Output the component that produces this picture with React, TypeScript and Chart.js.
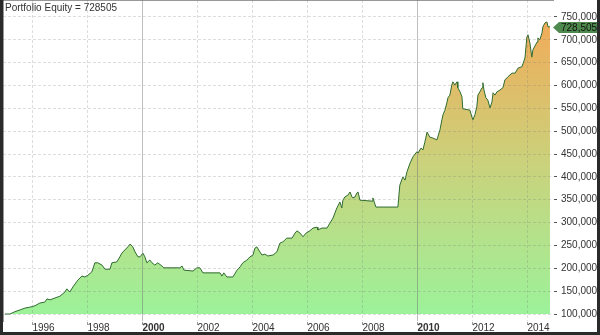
import React, { useEffect, useRef } from 'react';
import { Chart, registerables } from 'chart.js';

Chart.register(...registerables);

const TITLE = 'Portfolio Equity = 728505';

const years = [
  1995.00, 1995.18, 1995.36, 1995.55, 1995.73, 1995.91, 1996.09, 1996.27, 1996.45, 1996.53,
  1996.64, 1996.82, 1997.00, 1997.18, 1997.25, 1997.36, 1997.47, 1997.65, 1997.80, 1997.91,
  1998.02, 1998.16, 1998.27, 1998.38, 1998.53, 1998.64, 1998.82, 1998.89, 1999.07, 1999.18,
  1999.25, 1999.36, 1999.47, 1999.55, 1999.65, 1999.73, 1999.84, 1999.91, 2000.02, 2000.09,
  2000.16, 2000.27, 2000.35, 2000.45, 2000.56, 2000.71, 2000.78, 2001.36, 2001.44, 2001.51,
  2001.84, 2001.98, 2002.09, 2002.20, 2002.82, 2002.89, 2002.96, 2003.07, 2003.29, 2003.44,
  2003.55, 2003.65, 2003.80, 2003.91, 2004.02, 2004.09, 2004.16, 2004.27, 2004.35, 2004.45,
  2004.56, 2004.75, 2004.89, 2005.00, 2005.11, 2005.25, 2005.44, 2005.55, 2005.62, 2005.73,
  2005.84, 2005.95, 2006.09, 2006.20, 2006.35, 2006.38, 2006.53, 2006.71, 2006.82, 2006.93,
  2007.07, 2007.18, 2007.25, 2007.29, 2007.36, 2007.47, 2007.55, 2007.62, 2007.65, 2007.73,
  2007.80, 2007.84, 2007.91, 2008.35, 2008.38, 2008.49, 2009.29, 2009.36, 2009.47, 2009.55,
  2009.62, 2009.73, 2009.84, 2009.98, 2010.02, 2010.13, 2010.20, 2010.27, 2010.35, 2010.45,
  2010.56, 2010.71, 2010.82, 2010.89, 2010.93, 2011.00, 2011.07, 2011.11, 2011.18, 2011.25,
  2011.29, 2011.36, 2011.44, 2011.47, 2011.55, 2011.62, 2011.65, 2011.91, 2011.98, 2012.02,
  2012.09, 2012.16, 2012.20, 2012.27, 2012.35, 2012.38, 2012.42, 2012.49, 2012.56, 2012.64,
  2012.71, 2012.75, 2012.82, 2012.89, 2013.00, 2013.11, 2013.18, 2013.29, 2013.44, 2013.55,
  2013.66, 2013.80, 2013.91, 2013.98, 2014.02, 2014.09, 2014.16, 2014.20, 2014.35, 2014.38,
  2014.45, 2014.53, 2014.56, 2014.64, 2014.71, 2014.75, 2014.82,
];

const equity = [
  100000, 100000, 105000, 109000, 113000, 115000, 118000, 124000, 126000, 133000,
  131000, 135000, 139000, 148000, 155000, 148000, 159000, 174000, 183000, 181000,
  185000, 192000, 212000, 212000, 207000, 198000, 198000, 212000, 214000, 225000,
  233000, 240000, 247000, 253000, 247000, 236000, 225000, 225000, 233000, 225000,
  212000, 218000, 212000, 207000, 212000, 205000, 201000, 201000, 205000, 196000,
  194000, 201000, 201000, 190000, 190000, 183000, 190000, 181000, 181000, 196000,
  203000, 212000, 218000, 225000, 229000, 244000, 247000, 236000, 229000, 231000,
  227000, 229000, 236000, 255000, 258000, 266000, 266000, 277000, 282000, 277000,
  269000, 277000, 282000, 288000, 290000, 284000, 288000, 288000, 299000, 310000,
  332000, 345000, 332000, 349000, 356000, 360000, 367000, 356000, 354000, 356000,
  365000, 367000, 349000, 347000, 354000, 334000, 334000, 382000, 400000, 393000,
  411000, 430000, 444000, 455000, 452000, 463000, 459000, 476000, 498000, 487000,
  485000, 481000, 503000, 525000, 536000, 546000, 562000, 573000, 579000, 601000,
  608000, 601000, 608000, 595000, 586000, 575000, 549000, 546000, 531000, 525000,
  536000, 553000, 579000, 586000, 595000, 606000, 590000, 573000, 568000, 551000,
  564000, 584000, 579000, 586000, 590000, 595000, 612000, 619000, 627000, 627000,
  638000, 641000, 660000, 706000, 711000, 693000, 662000, 678000, 695000, 704000,
  700000, 715000, 728000, 737000, 739000, 728000, 728505,
];

const xTicks = [1996, 1998, 2000, 2002, 2004, 2006, 2008, 2010, 2012, 2014];
const boldYears = [2000, 2010];
const yTicks = [
  100000, 150000, 200000, 250000, 300000, 350000, 400000,
  450000, 500000, 550000, 600000, 650000, 700000, 750000,
];

const X_MIN = 1994.93;
const X_MAX = 2014.93;
const Y_MIN = 84700;
const Y_MAX = 787000;
const FILL_BASE = 100000;
const GRAD_TOP = 750000;

const FONT = '"Liberation Sans", Arial, sans-serif';

export default function App() {
  const ref = useRef<HTMLCanvasElement>(null);

  useEffect(() => {
    const canvas = ref.current;
    if (!canvas) return;
    const lastValue = equity[equity.length - 1];

    const overlay = {
      id: 'overlay',
      afterDraw(chart: any) {
        const ctx = chart.ctx;
        const ys = chart.scales.y;
        const area = chart.chartArea;
        ctx.save();
        ctx.font = `10px ${FONT}`;
        ctx.fillStyle = '#333';
        ctx.textAlign = 'left';
        ctx.textBaseline = 'top';
        ctx.fillText(TITLE, 2, 3);

        const py = Math.round(ys.getPixelForValue(lastValue)) + 0.5;
        const x0 = area.right;
        ctx.beginPath();
        ctx.moveTo(x0, py);
        ctx.lineTo(x0 + 6, py - 5.5);
        ctx.lineTo(chart.width, py - 5.5);
        ctx.lineTo(chart.width, py + 5.5);
        ctx.lineTo(x0 + 6, py + 5.5);
        ctx.closePath();
        ctx.fillStyle = '#4e8a4e';
        ctx.fill();
        ctx.fillStyle = '#111';
        ctx.textBaseline = 'middle';
        ctx.fillText(lastValue.toLocaleString('en-US'), x0 + 8, py + 0.5);
        ctx.restore();
      },
    };

    const isBold = (c: any) => !!(c && c.tick && boldYears.includes(c.tick.value));

    const chart = new Chart(canvas, {
      type: 'line',
      data: {
        datasets: [
          {
            data: years.map((x, i) => ({ x, y: equity[i] })),
            borderColor: '#2f6b2f',
            borderWidth: 1,
            pointRadius: 0,
            tension: 0,
            fill: { value: FILL_BASE },
            backgroundColor: (c: any) => {
              const ch = c.chart;
              if (!ch.chartArea) return '#9cf29a';
              const ys = ch.scales.y;
              const g = ch.ctx.createLinearGradient(
                0, ys.getPixelForValue(FILL_BASE), 0, ys.getPixelForValue(GRAD_TOP)
              );
              g.addColorStop(0, '#9cf29a');
              g.addColorStop(0.5, '#cad27c');
              g.addColorStop(1, '#f2aa58');
              return g;
            },
          },
        ],
      },
      options: {
        animation: false,
        responsive: false,
        maintainAspectRatio: false,
        devicePixelRatio: 1,
        layout: { padding: 0 },
        plugins: {
          legend: { display: false },
          tooltip: { enabled: false },
          title: { display: false },
        },
        scales: {
          x: {
            type: 'linear',
            position: 'bottom',
            min: X_MIN,
            max: X_MAX,
            afterBuildTicks: (s: any) => {
              s.ticks = xTicks.map((v) => ({ value: v }));
            },
            afterFit: (s: any) => {
              s.height = 11;
              s.paddingLeft = 0;
              s.paddingRight = 0;
            },
            ticks: {
              align: 'start',
              padding: -3,
              maxRotation: 0,
              autoSkip: false,
              color: '#333',
              callback: (v: any) => String(v),
              font: (c: any) => ({ family: FONT, size: 10, weight: isBold(c) ? 'bold' : 'normal' }),
            },
            grid: {
              z: 1,
              color: (c: any) => (isBold(c) ? 'rgba(110,110,110,0.45)' : 'rgba(120,120,120,0.25)'),
              lineWidth: 1,
              tickLength: 4,
              tickColor: '#999',
              tickBorderDash: [1, 0],
            },
            border: {
              display: true,
              color: '#333',
              width: 1,
              dash: (c: any) => (c && c.tick && !isBold(c) ? [3, 2] : []),
            },
          },
          y: {
            type: 'linear',
            position: 'right',
            min: Y_MIN,
            max: Y_MAX,
            afterBuildTicks: (s: any) => {
              s.ticks = yTicks.map((v) => ({ value: v }));
            },
            afterFit: (s: any) => {
              s.width = 44;
              s.paddingTop = 0;
              s.paddingBottom = 0;
            },
            ticks: {
              crossAlign: 'near',
              padding: 4,
              color: '#333',
              font: { family: FONT, size: 10 },
              callback: (v: any) => Number(v).toLocaleString('en-US'),
            },
            grid: {
              z: 1,
              color: 'rgba(120,120,120,0.25)',
              lineWidth: 1,
              tickLength: 4,
              tickColor: '#555',
              tickBorderDash: [1, 0],
            },
            border: {
              display: true,
              color: '#333',
              width: 1,
              dash: (c: any) => (c && c.tick ? [3, 2] : []),
            },
          },
        },
      } as any,
      plugins: [overlay],
    });

    return () => chart.destroy();
  }, []);

  return (
    <div
      style={{
        position: 'absolute',
        left: 0,
        top: 0,
        width: 600,
        height: 335,
        background: '#2a2a2a',
      }}
    >
      <canvas
        ref={ref}
        width={594}
        height={332}
        style={{ position: 'absolute', left: 3, top: 0, width: 594, height: 332, background: '#fff' }}
      />
    </div>
  );
}
